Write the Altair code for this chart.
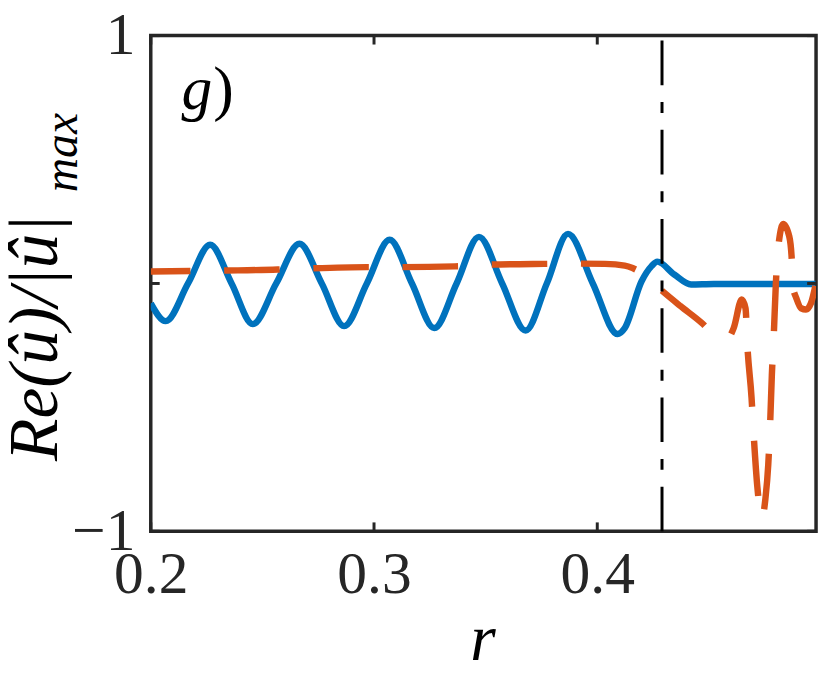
import altair as alt
import pandas as pd

# ---- data ----
blue_r = [0.2000, 0.2067, 0.2167, 0.2266, 0.2362, 0.2457, 0.2562, 0.2666, 0.2766, 0.2866,
          0.2968, 0.3070, 0.3170, 0.3270, 0.3370, 0.3470, 0.3574, 0.3679, 0.3774, 0.3869,
          0.3980, 0.4091, 0.4123, 0.4198, 0.4243, 0.4269, 0.4345, 0.4420, 0.4522, 0.4977]
blue_v = [-0.080, -0.152, 0.000, 0.156, 0.000, -0.164, 0.000, 0.160, 0.000, -0.172,
          0.000, 0.176, 0.000, -0.180, 0.000, 0.188, 0.000, -0.190, 0.000, 0.200,
          0.000, -0.204, -0.180, 0.008, 0.070, 0.088, 0.036, -0.004, -0.002, -0.002]

orange_r = [0.2000, 0.2324, 0.2568, 0.2715, 0.2968, 0.3119, 0.3363, 0.3514, 0.3763, 0.3914,
            0.4034, 0.4123, 0.4158, 0.4211, 0.4278, 0.4371, 0.4469, 0.4522, 0.4580, 0.4611,
            0.4647, 0.4664, 0.4673, 0.4691, 0.4700, 0.4717, 0.4737, 0.4753, 0.4766, 0.4775,
            0.4782, 0.4791, 0.4800, 0.4809, 0.4833, 0.4860, 0.4871, 0.4876, 0.4892, 0.4913,
            0.4935, 0.4957, 0.4977]
orange_v = [0.048, 0.052, 0.056, 0.061, 0.066, 0.066, 0.069, 0.076, 0.079, 0.080,
            0.079, 0.072, 0.062, 0.035, -0.020, -0.090, -0.160, -0.205, -0.225, -0.180,
            -0.065, -0.100, -0.260, -0.460, -0.600, -0.820, -0.950, -0.870, -0.730, -0.550,
            -0.370, -0.200, 0.000, 0.130, 0.240, 0.190, 0.100, -0.010, -0.060, -0.100,
            -0.105, -0.080, -0.010]

r_interface = [0.4290]
x_ticks = [0.2, 0.3, 0.4]
y_ticks = [-1, 0, 1]
x_domain = [0.2, 0.498]
y_domain = [-1, 1]

FONT = "Liberation Serif"
W, H = 671, 500

blue_df = pd.DataFrame({"r": blue_r, "v": blue_v})
orange_df = pd.DataFrame({"r": orange_r, "v": orange_v})
iface_df = pd.DataFrame({"r": r_interface, "y0": [-1], "y1": [1]})
xt_df = pd.DataFrame({"t": x_ticks})
yt_df = pd.DataFrame({"t": y_ticks})

xscale = alt.Scale(domain=x_domain, nice=False, zero=False)
yscale = alt.Scale(domain=y_domain, nice=False, zero=False)

xaxis = alt.Axis(values=x_ticks, format=".1f", ticks=False, tickSize=0, domain=False, grid=False,
                 labelFont=FONT, labelFontSize=60, labelColor="#262626", labelPadding=62,
                 labelBaseline="alphabetic", labelFlush=False, title="")
yaxis = alt.Axis(values=y_ticks, format="d", ticks=False, tickSize=0, domain=False, grid=False,
                 labelFont=FONT, labelFontSize=60, labelColor="#262626", labelPadding=16,
                 labelFlush=False, title="")

blue = alt.Chart(blue_df).mark_line(color="#0072BD", strokeWidth=6.5, interpolate="monotone", clip=True).encode(
    x=alt.X("r:Q", scale=xscale, axis=xaxis),
    y=alt.Y("v:Q", scale=yscale, axis=yaxis),
    order="r:Q",
)

orange = alt.Chart(orange_df).mark_line(color="#D95319", strokeWidth=6.5, interpolate="monotone",
                                        strokeDash=[56, 34], strokeDashOffset=16, clip=True).encode(
    x=alt.X("r:Q", scale=xscale),
    y=alt.Y("v:Q", scale=yscale),
    order="r:Q",
)

iface = alt.Chart(iface_df).mark_rule(color="black", strokeWidth=3, strokeDash=[45, 17, 11, 17]).encode(
    x=alt.X("r:Q", scale=xscale),
    y=alt.Y("y0:Q", scale=yscale),
    y2="y1:Q",
)

tick_style = dict(color="#262626", strokeWidth=3)
xt_bottom = alt.Chart(xt_df).mark_rule(**tick_style).encode(
    x=alt.X("t:Q", scale=xscale), y=alt.value(H), y2=alt.value(H - 9))
xt_top = alt.Chart(xt_df).mark_rule(**tick_style).encode(
    x=alt.X("t:Q", scale=xscale), y=alt.value(0), y2=alt.value(9))
yt_left = alt.Chart(yt_df).mark_rule(**tick_style).encode(
    y=alt.Y("t:Q", scale=yscale), x=alt.value(0), x2=alt.value(9))
yt_right = alt.Chart(yt_df).mark_rule(**tick_style).encode(
    y=alt.Y("t:Q", scale=yscale), x=alt.value(W), x2=alt.value(W - 9))

g_text = alt.Chart(pd.DataFrame({"s": ["g"]})).mark_text(
    font=FONT, fontSize=62, fontStyle="italic", align="left", baseline="alphabetic", color="black"
).encode(text="s:N", x=alt.value(31), y=alt.value(74))
paren_text = alt.Chart(pd.DataFrame({"s": [")"]})).mark_text(
    font=FONT, fontSize=62, align="left", baseline="alphabetic", color="black"
).encode(text="s:N", x=alt.value(63), y=alt.value(74))

r_text = alt.Chart(pd.DataFrame({"s": ["r"]})).mark_text(
    font=FONT, fontSize=66, fontStyle="italic", align="center", baseline="alphabetic", color="black"
).encode(text="s:N", x=alt.value(335), y=alt.value(630))

ylab_main = alt.Chart(pd.DataFrame({"s": ["Re(û)/|û|"]})).mark_text(
    font=FONT, fontSize=70, fontStyle="italic", align="left", baseline="alphabetic", angle=270, color="black"
).encode(text="s:N", x=alt.value(-95), y=alt.value(429))
ylab_sub = alt.Chart(pd.DataFrame({"s": ["max"]})).mark_text(
    font=FONT, fontSize=48, fontStyle="italic", align="left", baseline="alphabetic", angle=270, color="black"
).encode(text="s:N", x=alt.value(-74), y=alt.value(158))

chart = alt.layer(
    blue, orange, iface, xt_bottom, xt_top, yt_left, yt_right,
    g_text, paren_text, r_text, ylab_main, ylab_sub
).properties(
    width=W, height=H,
    padding={"left": 144, "top": 25, "right": 6, "bottom": 134},
    autosize=alt.AutoSizeParams(type="none"),
).configure(
    background="white",
    view=alt.ViewConfig(stroke="#262626", strokeWidth=3.5),
)

chart.save("out.html", embed_options={"renderer": "svg", "actions": False})
